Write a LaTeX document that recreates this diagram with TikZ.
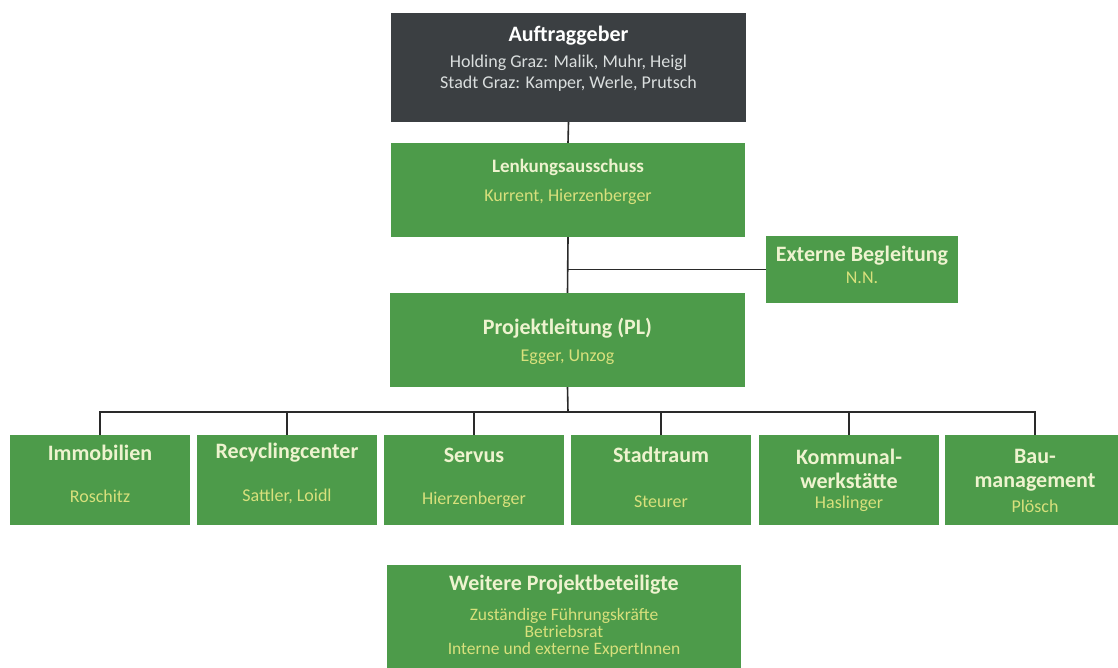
\documentclass[tikz,border=0pt]{standalone}
\usepackage{fontspec}
\setmainfont{Carlito}
\definecolor{boxgreen}{HTML}{4D9B4A}
\definecolor{boxdark}{HTML}{3B3F42}
\definecolor{titlecream}{HTML}{EEF3CF}
\definecolor{subyellow}{HTML}{D8E07C}
\definecolor{subgray}{HTML}{DADEDE}
\definecolor{linegray}{HTML}{2A2A2A}
\tikzset{
  x=1pt, y=-1pt,
  gbox/.style={fill=boxgreen, draw=none, inner sep=0pt, anchor=center},
  dbox/.style={fill=boxdark, draw=none, inner sep=0pt, anchor=center},
  ttl/.style={text=titlecream, font=\fontsize{22}{24}\selectfont\bfseries, align=center, inner sep=0pt},
  wttl/.style={text=white, font=\fontsize{22}{24}\selectfont\bfseries, align=center, inner sep=0pt},
  sub/.style={text=subyellow, font=\fontsize{18}{17}\selectfont, align=center, inner sep=0pt},
  gsub/.style={text=subgray, font=\fontsize{18}{21}\selectfont, align=center, inner sep=0pt},
  conn/.style={draw=linegray, line width=1.6pt},
}
\begin{document}
\begin{tikzpicture}
\useasboundingbox[fill=white] (0,0) rectangle (1118,667);
% boxes
\node[dbox, minimum width=355, minimum height=109] (A) at (568.5,67.5) {};
\node[gbox, minimum width=354, minimum height=94] (L) at (568,190) {};
\node[gbox, minimum width=192, minimum height=67] (E) at (862,269.5) {};
\node[gbox, minimum width=355, minimum height=94] (P) at (567.5,340) {};
\foreach \n/\x in {c1/100, c2/287, c3/474, c4/661, c5/849, c6/1035}{
  \node[gbox, minimum width=180, minimum height=90] (\n) at (\x,480) {};
}
\node[gbox, minimum width=354, minimum height=115] (W) at (564,622.5) {};
% texts
\node[wttl] (At) at (568.5,36) {Auftraggeber};
\node[gsub] (As) at (568.5,73) {Holding Graz: Malik, Muhr, Heigl\\Stadt Graz: Kamper, Werle, Prutsch};
\node[ttl, font=\fontsize{19}{24}\selectfont\bfseries] (Lt) at (568,167) {Lenkungsausschuss};
\node[sub] (Ls) at (568,197) {Kurrent, Hierzenberger};
\node[ttl] (Et) at (862,256) {Externe Begleitung};
\node[sub] (Es) at (862,278) {N.N.};
\node[ttl] (Pt) at (567.5,328) {Projektleitung (PL)};
\node[sub] (Ps) at (567.5,357) {Egger, Unzog};
\node[ttl] (c1t) at (100,453) {Immobilien};
\node[sub] (c1s) at (100,496) {Roschitz};
\node[ttl] (c2t) at (287,453) {Recyclingcenter};
\node[sub] (c2s) at (287,496) {Sattler, Loidl};
\node[ttl] (c3t) at (474,455) {Servus};
\node[sub] (c3s) at (474,500) {Hierzenberger};
\node[ttl] (c4t) at (661,455) {Stadtraum};
\node[sub] (c4s) at (661,502) {Steurer};
\node[ttl] (c5t) at (849,469) {Kommunal-\\werkstätte};
\node[sub] (c5s) at (849,504) {Haslinger};
\node[ttl] (c6t) at (1035,470) {Bau-\\management};
\node[sub] (c6s) at (1035,506) {Plösch};
\node[ttl] (Wt) at (564,585) {Weitere Projektbeteiligte};
\node[sub, font=\fontsize{17.5}{17}\selectfont] (Ws) at (564,633) {Zuständige Führungskräfte\\Betriebsrat\\Interne und externe ExpertInnen};
% connectors
\draw[conn] (A.south) -- (L.north);
\draw[conn] (L.south) -- (P.north);
\coordinate (jE) at (L.south |- E.west);
\draw[conn] (jE) -- (E.west);
\coordinate (bus) at (568,412);
\draw[conn] (P.south) -- (bus);
\foreach \n in {c1,c2,c3,c4,c5,c6}{
  \draw[conn] (bus) -| (\n.north);
}
\end{tikzpicture}
\end{document}
